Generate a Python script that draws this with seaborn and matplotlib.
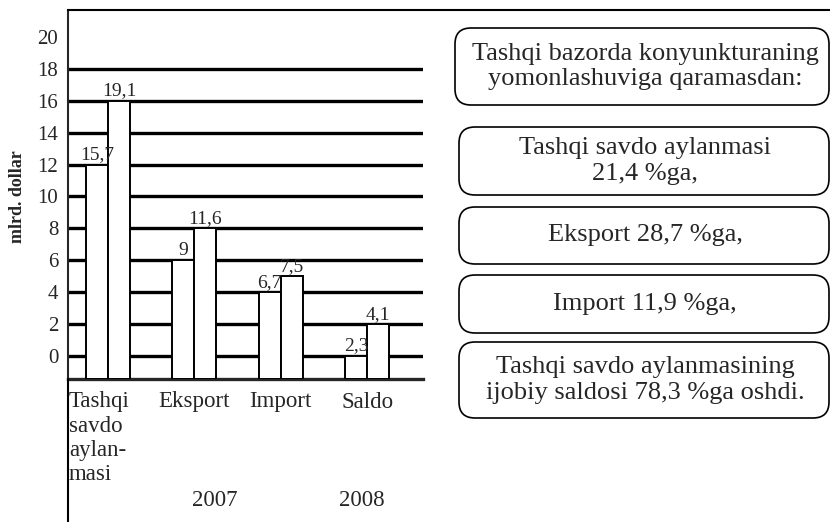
import pandas as pd
import matplotlib.pyplot as plt
import seaborn as sns
from matplotlib.patches import FancyBboxPatch
from matplotlib.lines import Line2D
from matplotlib.transforms import ScaledTranslation

categories = ["Tashqi\nsavdo\naylan-\nmasi", "Eksport", "Import", "Saldo"]
years = ["2007", "2008"]
values_2007 = [15.7, 9, 6.7, 2.3]
values_2008 = [19.1, 11.6, 7.5, 4.1]
# bar tops as they are drawn in the picture (on the printed y scale)
tops_2007 = [12, 6, 4, 0]
tops_2008 = [16, 8, 5, 2]
baseline = -1.45
y_ticks = list(range(0, 21, 2))
notes = [
    "Tashqi bazorda konyunkturaning\nyomonlashuviga qaramasdan:",
    "Tashqi savdo aylanmasi\n21,4 %ga,",
    "Eksport 28,7 %ga,",
    "Import 11,9 %ga,",
    "Tashqi savdo aylanmasining\nijobiy saldosi 78,3 %ga oshdi.",
]

sns.set_style("white")
plt.rcParams["font.family"] = ["Liberation Serif", "DejaVu Serif"]

df = pd.DataFrame({
    "cat": categories * 2,
    "year": [years[0]] * 4 + [years[1]] * 4,
    "h": [t - baseline for t in tops_2007 + tops_2008],
})

fig = plt.figure(figsize=(8.3, 5.22), dpi=100)
W, H = 830, 522
ax = fig.add_axes([68 / W, 1 - 379 / H, (423 - 68) / W, (379 - 10) / H])

sns.barplot(data=df, x="cat", y="h", hue="year", palette=["white", "white"],
            width=0.51, edgecolor="black", linewidth=1.4, bottom=baseline,
            legend=False, errorbar=None, ax=ax, zorder=3, saturation=1)

for cont, vals in zip(ax.containers, [values_2007, values_2008]):
    ax.bar_label(cont, labels=[f"{v:g}".replace(".", ",") for v in vals],
                 padding=1, fontsize=14)

ax.set_xlim(-0.462, 3.647)
ax.set_ylim(baseline, 21.7)
ax.set_yticks(y_ticks)
ax.set_yticklabels([str(t) for t in y_ticks], fontsize=15)
ax.tick_params(axis="y", length=0, pad=7)
ax.tick_params(axis="x", length=0, pad=9, labelsize=16.5)
ax.set_xlabel("")
ax.set_ylabel("")
ax.yaxis.grid(True, color="black", linewidth=2.4)
ax.get_ygridlines()[-1].set_visible(False)
ax.set_axisbelow(True)
for s in ["top", "right"]:
    ax.spines[s].set_visible(False)
ax.spines["bottom"].set_linewidth(2.4)
ax.spines["left"].set_linewidth(1.5)

first = ax.get_xticklabels()[0]
first.set_horizontalalignment("left")
first.set_transform(first.get_transform() + ScaledTranslation(-0.39, 0, fig.dpi_scale_trans))

# frame lines of the page
fig.add_artist(Line2D([68 / W, 1], [1 - 10 / H] * 2, color="black", lw=1.5))
fig.add_artist(Line2D([68 / W] * 2, [0, 1 - 379 / H], color="black", lw=1.5))

fig.text(18 / W, 1 - 197 / H, "mlrd. dollar", rotation=90, ha="center", va="center",
         fontsize=13, fontweight="bold")
fig.text(215 / W, 1 - 500 / H, years[0], ha="center", va="center", fontsize=16.5)
fig.text(362 / W, 1 - 500 / H, years[1], ha="center", va="center", fontsize=16.5)

boxes = [(455, 28, 105), (459, 127, 195), (459, 207, 264), (459, 275, 333), (459, 342, 418)]
for (x0, y0, y1), txt in zip(boxes, notes):
    p = FancyBboxPatch((x0 / 100, (H - y1) / 100), (829 - x0) / 100, (y1 - y0) / 100,
                       boxstyle="round,pad=0,rounding_size=0.16",
                       transform=fig.dpi_scale_trans, facecolor="none",
                       edgecolor="black", lw=1.2)
    fig.add_artist(p)
    fig.text(645 / W, 1 - (y0 + y1) / 2 / H, txt, ha="center", va="center",
             fontsize=19, linespacing=1.2)

fig.savefig("out.png", dpi=100)
